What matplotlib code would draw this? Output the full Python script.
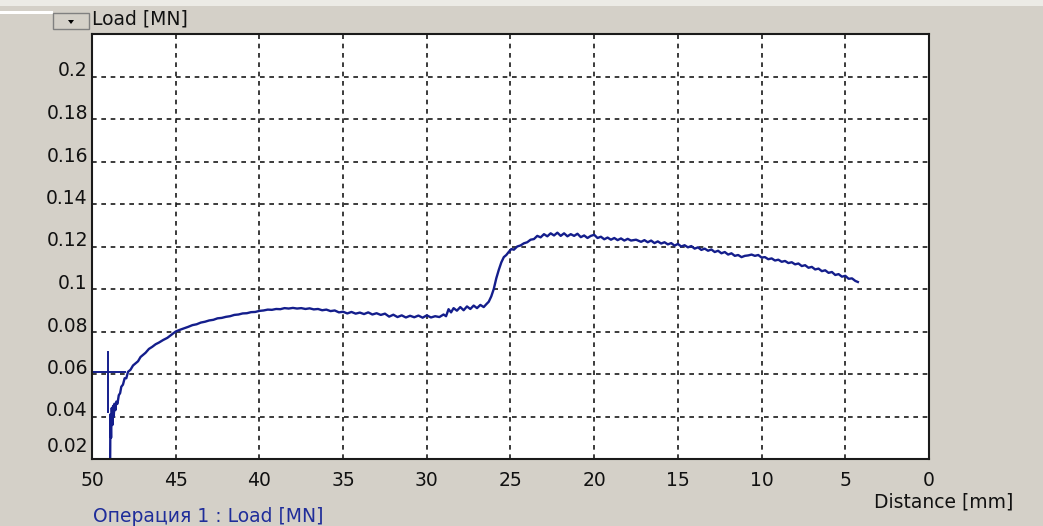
import matplotlib.pyplot as plt
from matplotlib.patches import Rectangle, Polygon
import matplotlib.transforms as mtransforms

# curve: distance [mm] and load [MN]
distance = [48.92, 48.90, 48.86, 48.82, 48.78, 48.74, 48.70, 48.66, 48.60, 48.55,
            48.48, 48.40, 48.32, 48.25, 48.15, 48.05, 47.95, 47.85, 47.70, 47.55,
            47.40, 47.25, 47.10, 46.95, 46.80, 46.60, 46.40, 46.20, 46.00, 45.75,
            45.50, 45.25, 45.00, 44.75, 44.50, 44.25, 44.00, 43.75, 43.50, 43.25,
            43.00, 42.75, 42.50, 42.25, 42.00, 41.75, 41.50, 41.25, 41.00, 40.75,
            40.50, 40.25, 40.00, 39.75, 39.50, 39.25, 39.00, 38.75, 38.50, 38.25,
            38.00, 37.75, 37.50, 37.25, 37.00, 36.75, 36.50, 36.25, 36.00, 35.75,
            35.50, 35.25, 35.00, 34.75, 34.50, 34.25, 34.00, 33.75, 33.50, 33.25,
            33.00, 32.75, 32.50, 32.25, 32.00, 31.75, 31.50, 31.25, 31.00, 30.75,
            30.50, 30.25, 30.00, 29.75, 29.50, 29.25, 29.00, 28.85, 28.70, 28.55,
            28.40, 28.20, 28.00, 27.80, 27.60, 27.40, 27.20, 27.00, 26.80, 26.60,
            26.45, 26.30, 26.15, 26.00, 25.85, 25.70, 25.55, 25.40, 25.25, 25.10,
            24.95, 24.80, 24.60, 24.40, 24.20, 24.00, 23.80, 23.60, 23.40, 23.20,
            23.00, 22.80, 22.60, 22.40, 22.20, 22.00, 21.80, 21.60, 21.40, 21.20,
            21.00, 20.80, 20.60, 20.40, 20.20, 20.00, 19.80, 19.60, 19.40, 19.20,
            19.00, 18.80, 18.60, 18.40, 18.20, 18.00, 17.80, 17.50, 17.20, 17.00,
            16.80, 16.60, 16.40, 16.20, 16.00, 15.80, 15.60, 15.40, 15.20, 15.00,
            14.80, 14.60, 14.40, 14.20, 14.00, 13.80, 13.60, 13.40, 13.20, 13.00,
            12.80, 12.60, 12.40, 12.20, 12.00, 11.80, 11.60, 11.40, 11.20, 11.00,
            10.80, 10.60, 10.40, 10.20, 10.00, 9.80, 9.60, 9.40, 9.20, 9.00,
            8.80, 8.60, 8.40, 8.20, 8.00, 7.80, 7.60, 7.40, 7.20, 7.00,
            6.80, 6.60, 6.40, 6.20, 6.00, 5.80, 5.60, 5.40, 5.20, 5.00,
            4.80, 4.60, 4.40, 4.25]
load = [0.012, 0.041, 0.030, 0.044, 0.036, 0.045, 0.040, 0.046, 0.043, 0.047,
        0.046, 0.050, 0.051, 0.054, 0.055, 0.058, 0.058, 0.061, 0.062, 0.064,
        0.065, 0.066, 0.068, 0.069, 0.070, 0.0718, 0.0728, 0.0740, 0.0748, 0.0760,
        0.0770, 0.0785, 0.0800, 0.0808, 0.0815, 0.0822, 0.0830, 0.0834, 0.0842, 0.0846,
        0.0852, 0.0855, 0.0862, 0.0864, 0.0869, 0.0872, 0.0878, 0.0880, 0.0885, 0.0886,
        0.0891, 0.0892, 0.0897, 0.0899, 0.0903, 0.0902, 0.0906, 0.0905, 0.0910, 0.0908,
        0.0911, 0.0908, 0.0910, 0.0906, 0.0909, 0.0904, 0.0906, 0.0900, 0.0903, 0.0896,
        0.0899, 0.0890, 0.0893, 0.0885, 0.0892, 0.0884, 0.0889, 0.0882, 0.0890, 0.0880,
        0.0886, 0.0878, 0.0884, 0.0870, 0.0879, 0.0868, 0.0876, 0.0866, 0.0874, 0.0867,
        0.0875, 0.0865, 0.0876, 0.0866, 0.0872, 0.0868, 0.0880, 0.0872, 0.0905, 0.0890,
        0.0910, 0.0898, 0.0915, 0.0900, 0.0918, 0.0906, 0.0922, 0.0910, 0.0925, 0.0915,
        0.0928, 0.0940, 0.0965, 0.1000, 0.1050, 0.1090, 0.1125, 0.1150, 0.1160, 0.1175,
        0.1188, 0.1185, 0.1200, 0.1205, 0.1215, 0.1220, 0.1232, 0.1235, 0.1250, 0.1243,
        0.1258, 0.1248, 0.1262, 0.1252, 0.1265, 0.1250, 0.1262, 0.1248, 0.1258, 0.1250,
        0.1260, 0.1244, 0.1252, 0.1240, 0.1250, 0.1255, 0.1240, 0.1246, 0.1234, 0.1242,
        0.1232, 0.1240, 0.1230, 0.1238, 0.1228, 0.1236, 0.1228, 0.1232, 0.1222, 0.1230,
        0.1220, 0.1228, 0.1216, 0.1224, 0.1214, 0.1220, 0.1210, 0.1216, 0.1204, 0.1212,
        0.1200, 0.1206, 0.1196, 0.1202, 0.1190, 0.1196, 0.1184, 0.1190, 0.1180, 0.1186,
        0.1174, 0.1180, 0.1168, 0.1174, 0.1162, 0.1168, 0.1156, 0.1160, 0.1150, 0.1156,
        0.1158, 0.1162, 0.1156, 0.1160, 0.1148, 0.1150, 0.1140, 0.1144, 0.1134, 0.1138,
        0.1128, 0.1132, 0.1122, 0.1126, 0.1116, 0.1120, 0.1108, 0.1112, 0.1100, 0.1104,
        0.1092, 0.1096, 0.1084, 0.1088, 0.1076, 0.1080, 0.1066, 0.1070, 0.1058, 0.1062,
        0.1048, 0.1050, 0.1038, 0.1033]

# cursor cross
cursor_h = ([50.0, 48.0], [0.061, 0.061])
cursor_v = ([49.05, 49.05], [0.042, 0.0705])

x_ticks = [50, 45, 40, 35, 30, 25, 20, 15, 10, 5, 0]
y_ticks = [0.02, 0.04, 0.06, 0.08, 0.1, 0.12, 0.14, 0.16, 0.18, 0.2]
y_labels = ['0.02', '0.04', '0.06', '0.08', '0.1', '0.12', '0.14', '0.16', '0.18', '0.2']

bg = '#d4d0c8'
navy = '#141e8c'
fs = 13.5

plt.rcParams['font.family'] = ['DejaVu Sans']

fig = plt.figure(figsize=(10.43, 5.26), dpi=100, facecolor=bg)
W, H = 1043, 526
ax = fig.add_axes([92 / W, 1 - 459 / H, (929 - 92) / W, (459 - 34) / H])
ax.set_facecolor('white')

ax.plot(distance, load, color=navy, lw=1.7, clip_on=True)
ax.plot(*cursor_h, color=navy, lw=1.4)
ax.plot(*cursor_v, color=navy, lw=1.4)

ax.set_xlim(50, 0)
ax.set_ylim(0.02, 0.22)
ax.set_xticks(x_ticks)
ax.set_yticks(y_ticks)
ax.set_yticklabels(y_labels)
ax.tick_params(length=0, labelsize=fs, colors='#111111')
ax.tick_params(axis='x', pad=9)
ax.tick_params(axis='y', pad=3)

for lab in ax.get_yticklabels():
    lab.set_verticalalignment('baseline')
# lift the bottom label off the axis like the original
off = mtransforms.ScaledTranslation(0, 7 / 100, fig.dpi_scale_trans)
lbl0 = ax.get_yticklabels()[0]
lbl0.set_transform(lbl0.get_transform() + off)

ax.grid(True, color='#1a1a1a', lw=1.2, linestyle=(0, (2.8, 2.8)))
for s in ax.spines.values():
    s.set_color('#1a1a1a')
    s.set_linewidth(1.5)

fig.text(1013 / W, 1 - 502 / H, 'Distance [mm]', ha='right', va='center', fontsize=fs, color='#111111')
fig.text(93 / W, 1 - 517 / H, 'Операция 1 : Load [MN]', ha='left', va='center', fontsize=fs, color='#1f2d9a')
fig.text(92 / W, 1 - 19 / H, 'Load [MN]', ha='left', va='center', fontsize=fs, color='#111111')

# window chrome: light strip on top and the small dropdown button
fig.patches.append(Rectangle((0, 1 - 6 / H), 1, 6 / H, transform=fig.transFigure,
                             facecolor='#ecebe6', edgecolor='none'))
fig.patches.append(Rectangle((0, 1 - 14 / H), 53 / W, 3 / H, transform=fig.transFigure,
                             facecolor='white', edgecolor='none'))
fig.patches.append(Rectangle((53 / W, 1 - 29 / H), 36 / W, 16 / H, transform=fig.transFigure,
                             facecolor=bg, edgecolor='#808080', lw=1))
fig.patches.append(Polygon([[68 / W, 1 - 20 / H], [74 / W, 1 - 20 / H], [71 / W, 1 - 24 / H]],
                           closed=True, transform=fig.transFigure, facecolor='black'))

fig.savefig('out.png', dpi=100, facecolor=bg)
